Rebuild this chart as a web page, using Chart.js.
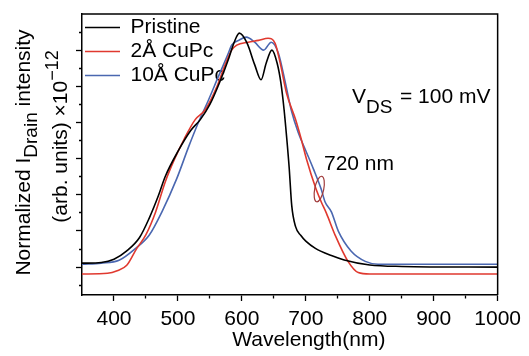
<!DOCTYPE html>
<html>
<head>
<meta charset="utf-8">
<script src="https://cdn.jsdelivr.net/npm/chart.js@4/dist/chart.umd.min.js"></script>
<style>
html,body{margin:0;padding:0;background:#fff;}
#wrap{width:529px;height:356px;}
</style>
</head>
<body>
<div id="wrap"><canvas id="c" width="529" height="356"></canvas></div>
<script>
// ---- data (wavelength in nm, normalized intensity in arb. units) ----
const pristineWl  = [350,380,400,420,440,455,470,480,500,520,535,550,565,580,588,596,608,620,630,638,647,655,661,666,670,674,678,684,692,700,715,740,760,800,850,1000];
const pristineVal = [0.11,0.13,0.22,0.45,0.82,1.35,2.00,2.50,3.20,3.78,4.08,4.50,5.10,5.80,6.22,6.47,6.20,5.60,5.18,5.64,6.00,5.65,5.10,4.36,3.60,2.75,1.70,1.12,0.88,0.72,0.52,0.32,0.20,0.06,0.02,0.00];

const cupc2Wl  = [350,390,405,420,435,450,465,480,495,510,527,543,560,575,584,592,610,626,641,652,660,670,684,693,701,716,724,732,746,766,782,800,1000];
const cupc2Val = [-0.19,-0.17,-0.10,0.05,0.50,0.90,1.52,2.35,3.00,3.55,4.08,4.36,4.95,5.65,6.00,6.14,6.22,6.27,6.33,6.19,5.64,4.80,4.08,3.53,2.99,2.16,1.81,1.50,0.88,0.16,-0.15,-0.19,-0.19];

const cupc10Wl  = [350,380,408,434,455,475,498,517,532,548,563,579,584,595,607,620,634,646,657,668,677,688,699,712,724,730,740,751,771,793,813,1000];
const cupc10Val = [0.08,0.11,0.19,0.52,0.88,1.53,2.44,3.34,4.00,4.63,5.26,5.92,6.14,6.27,6.36,6.22,6.00,6.22,5.92,5.10,4.36,3.73,3.26,2.71,2.16,1.81,1.53,0.99,0.44,0.16,0.08,0.08];

const seriesNames = ['Pristine', '2Å CuPc', '10Å CuPc'];
const wavelengthTicks = [400,450,500,550,600,650,700,750,800,850,900,950,1000];
const wavelengthLabels = [400,500,600,700,800,900,1000];
const intensityTicks = [-0.5,0,0.5,1,1.5,2,2.5,3,3.5,4,4.5,5,5.5,6,6.5];
const markedWavelength = 720;
const markedIntensity = 2.16;

const FONT = '"Liberation Sans", Arial, Helvetica, sans-serif';
const toPts = (xs, ys) => xs.map((v, i) => ({x: v, y: ys[i]}));

function drawRich(ctx, parts, cx, baseY) {
  let total = 0;
  parts.forEach(p => { ctx.font = p.size + 'px ' + FONT; p.w = ctx.measureText(p.t).width; total += p.w; });
  let x = cx - total / 2;
  ctx.textAlign = 'left';
  ctx.textBaseline = 'alphabetic';
  parts.forEach(p => { ctx.font = p.size + 'px ' + FONT; ctx.fillText(p.t, x, baseY + (p.dy || 0)); x += p.w; });
}

const legendPlacer = {
  id: 'legendPlacer',
  afterLayout(chart) {
    const lg = chart.legend, a = chart.chartArea;
    if (!lg) return;
    const w = lg.width, h = lg.height;
    lg.left = a.left; lg.top = a.top; lg.right = a.left + w; lg.bottom = a.top + h;
  }
};

const annotations = {
  id: 'annotations',
  afterDraw(chart) {
    const {ctx, chartArea: a, scales} = chart;
    ctx.save();
    // frame: top and right edges of the plot box
    ctx.strokeStyle = '#000';
    ctx.lineWidth = 1.5;
    ctx.beginPath();
    ctx.moveTo(a.left, a.top);
    ctx.lineTo(a.right, a.top);
    ctx.lineTo(a.right, a.bottom);
    ctx.stroke();

    ctx.fillStyle = '#000';
    // Y-axis title (two rotated lines)
    ctx.save();
    ctx.translate(a.left - 52, (a.top + a.bottom) / 2 - 2);
    ctx.rotate(-Math.PI / 2);
    drawRich(ctx, [{t: 'Normalized I', size: 21}, {t: 'Drain', size: 19, dy: 7}, {t: ' intensity', size: 21}], 0, 0);
    ctx.restore();
    ctx.save();
    ctx.translate(a.left - 15, (a.top + a.bottom) / 2 - 18);
    ctx.rotate(-Math.PI / 2);
    drawRich(ctx, [{t: '(arb. units) ×10', size: 21}, {t: '−12', size: 18, dy: -9}], 0, 0);
    ctx.restore();
    // X-axis title
    drawRich(ctx, [{t: 'Wavelength(nm)', size: 21}], (a.left + a.right) / 2 + 19, a.bottom + 51);
    // V_DS label
    ctx.textAlign = 'left';
    ctx.font = '21px ' + FONT;
    ctx.fillText('V', a.left + 270, a.top + 89);
    ctx.font = '19px ' + FONT;
    ctx.fillText('DS', a.left + 284, a.top + 99);
    ctx.font = '21px ' + FONT;
    ctx.fillText('= 100 mV', a.left + 318, a.top + 89);
    // 720 nm label and ellipse
    ctx.fillText(markedWavelength + ' nm', a.left + 242, a.top + 156);
    const ex = scales.x.getPixelForValue(markedWavelength + 1);
    const ey = scales.y.getPixelForValue(markedIntensity);
    ctx.beginPath();
    ctx.ellipse(ex, ey, 4.5, 13, 0.2, 0, Math.PI * 2);
    ctx.strokeStyle = '#a03a3a';
    ctx.lineWidth = 1.2;
    ctx.stroke();
    ctx.restore();
  }
};

new Chart(document.getElementById('c'), {
  type: 'line',
  data: {
    datasets: [
      {label: seriesNames[0], data: toPts(pristineWl, pristineVal), borderColor: '#000000', backgroundColor: '#000000', borderWidth: 1.6, pointRadius: 0, cubicInterpolationMode: 'monotone', fill: false},
      {label: seriesNames[1], data: toPts(cupc2Wl, cupc2Val), borderColor: '#e0392f', backgroundColor: '#e0392f', borderWidth: 1.6, pointRadius: 0, cubicInterpolationMode: 'monotone', fill: false},
      {label: seriesNames[2], data: toPts(cupc10Wl, cupc10Val), borderColor: '#4a67b0', backgroundColor: '#4a67b0', borderWidth: 1.6, pointRadius: 0, cubicInterpolationMode: 'monotone', fill: false}
    ]
  },
  options: {
    responsive: false,
    animation: false,
    devicePixelRatio: 1,
    layout: {padding: {left: 76, right: 29, top: 14, bottom: 18}},
    plugins: {
      legend: {
        position: 'chartArea',
        align: 'start',
        labels: {
          usePointStyle: true,
          pointStyle: 'line',
          pointStyleWidth: 35,
          boxHeight: 21,
          padding: 3,
          color: '#000',
          font: {family: FONT, size: 21}
        }
      },
      tooltip: {enabled: false}
    },
    scales: {
      x: {
        type: 'linear',
        position: 'bottom',
        min: 350, max: 1000,
        afterBuildTicks: s => { s.ticks = wavelengthTicks.map(v => ({value: v})); },
        ticks: {
          autoSkip: false, maxRotation: 0, padding: 8, color: '#000',
          font: {family: FONT, size: 21, lineHeight: 1},
          callback: v => wavelengthLabels.includes(v) ? String(v) : ''
        },
        grid: {
          display: true, drawOnChartArea: false, drawTicks: true, tickLength: 6,
          tickColor: '#000', tickWidth: 1.3,
          tickBorderDash: c => (c.tick && !wavelengthLabels.includes(c.tick.value)) ? [3, 100] : []
        },
        border: {display: true, color: '#000', width: 1.5}
      },
      y: {
        type: 'linear',
        position: 'left',
        min: -0.77, max: 7,
        afterBuildTicks: s => { s.ticks = intensityTicks.map(v => ({value: v})); },
        ticks: {display: false},
        grid: {
          display: true, drawOnChartArea: false, drawTicks: true, tickLength: 6,
          tickColor: '#000', tickWidth: 1.3,
          tickBorderDash: c => (c.tick && !Number.isInteger(c.tick.value)) ? [0, 3, 3, 100] : []
        },
        border: {display: true, color: '#000', width: 1.5}
      }
    }
  },
  plugins: [legendPlacer, annotations]
});
</script>
</body>
</html>
